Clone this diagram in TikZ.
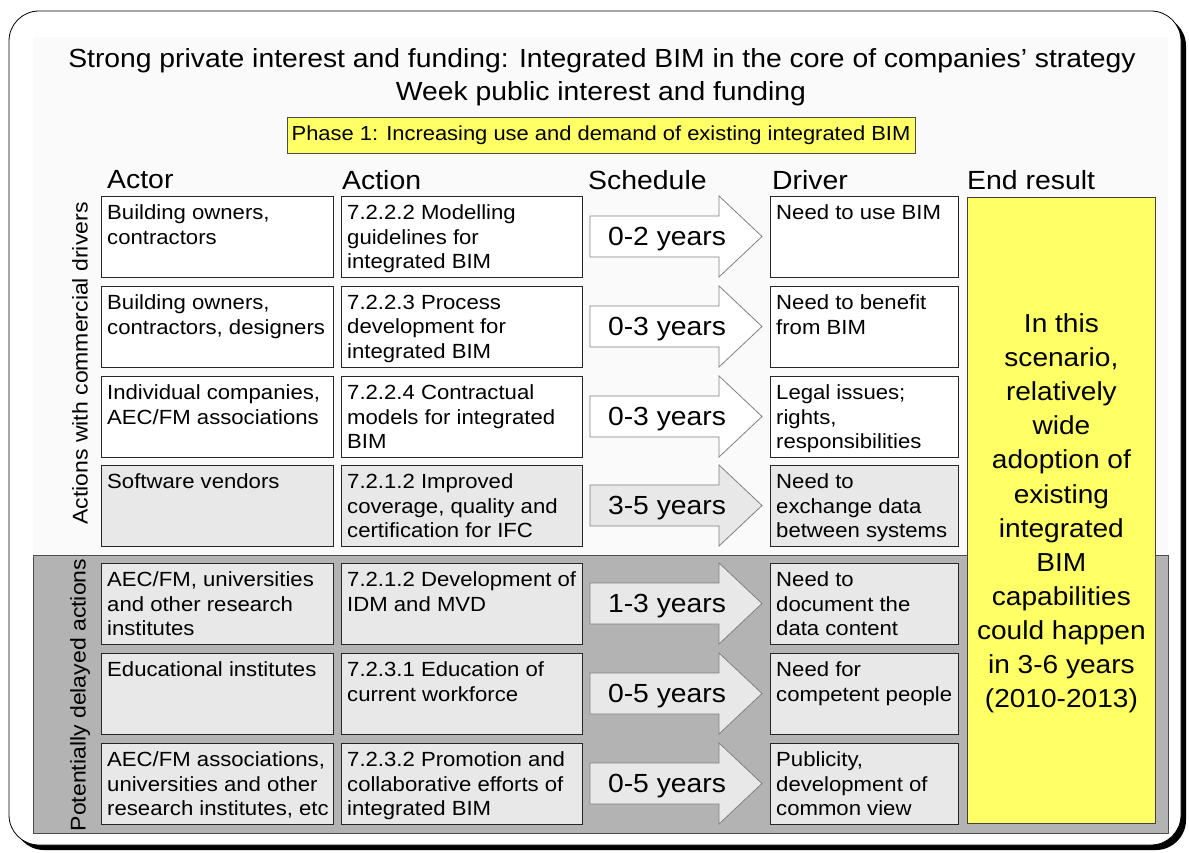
\documentclass[tikz,border=0pt]{standalone}
\usepackage{fontspec}
\usepackage{graphicx}
\setmainfont{Liberation Sans}[FakeStretch=1.08]
\definecolor{yel}{RGB}{255,255,102}
\definecolor{lg}{RGB}{232,232,232}
\definecolor{bgc}{RGB}{250,250,250}
\definecolor{dg}{RGB}{179,179,179}
\tikzset{
  cellbox/.style={draw=black!85, line width=0.8pt, anchor=north west, minimum height=81, inner sep=0pt},
  celltext/.style={anchor=north west, inner sep=0pt, align=left, font=\fontsize{20.5}{24.7}\selectfont},
  hdr/.style={anchor=west, inner sep=0pt, font=\fontsize{26.3}{30}\selectfont},
  arrowshape/.style={draw=black!50, line width=0.8pt},
  schedtext/.style={inner sep=0pt, font=\fontsize{26.2}{30}\selectfont},
  sidelabel/.style={rotate=90, inner sep=0pt, font=\fontsize{21.3}{24}\selectfont},
  titletext/.style={inner sep=0pt, font=\fontsize{26.2}{30}\selectfont},
}
\newcommand\bimrow[7]{%
  \node[cellbox, fill=#3, minimum width=232] (ac#1) at (101,#2) {};
  \node[celltext] (act#1) at ([xshift=6pt,yshift=-8.5pt]ac#1.north west) {#4};
  \node[cellbox, fill=#3, minimum width=241] (an#1) at (341,#2) {};
  \node[celltext] (ant#1) at ([xshift=6pt,yshift=-8.5pt]an#1.north west) {#5};
  \path[arrowshape, fill=#3] (590,#2+20) -- (719,#2+20) -- (719,#2) -- (762,#2+40.5) -- (719,#2+81) -- (719,#2+61) -- (590,#2+61) -- cycle;
  \node[schedtext] (sc#1) at (667,#2+43.5) {#6};
  \node[cellbox, fill=#3, minimum width=188] (dr#1) at (770,#2) {};
  \node[celltext] (drt#1) at ([xshift=6pt,yshift=-8.5pt]dr#1.north west) {#7};
}
\begin{document}
\begin{tikzpicture}[x=1pt,y=-1pt]
\useasboundingbox (0,0) rectangle (1189,853);
% frame with shadow
\fill[black, rounded corners=30] (14,16) rectangle (1186,850);
\draw[black, fill=white, line width=0.8pt, rounded corners=30] (9,11) rectangle (1181,845);
\fill[bgc] (33,37) rectangle (1168,555);
% gray region
\draw[fill=dg, draw=black!70, line width=0.8pt] (33,555) rectangle (1168,833);
% titles
\node[titletext] (t1) at (602,61) {Strong private interest and funding: Integrated BIM in the core of companies’ strategy};
\node[titletext] (t2) at (601,94) {Week public interest and funding};
\node[draw=black!70, fill=yel, line width=0.8pt, minimum width=628, minimum height=36, inner sep=0pt, font=\fontsize{20.3}{24}\selectfont] (phase) at (601,135) {Phase 1: Increasing use and demand of existing integrated BIM};
% headers
\node[hdr] (h1) at (107,180) {Actor};
\node[hdr] (h2) at (342,180) {Action};
\node[hdr] (h3) at (588,180) {Schedule};
\node[hdr] (h4) at (772,180) {Driver};
\node[hdr] (h5) at (967,180) {End result};
% side labels
\node[sidelabel] (s1) at (80,363.5) {Actions with commercial drivers};
\node[sidelabel] (s2) at (80,695) {Potentially delayed actions};
% rows
\bimrow{1}{196}{white}{Building owners,\\contractors}{7.2.2.2 Modelling\\guidelines for\\integrated BIM}{0-2 years}{Need to use BIM}
\bimrow{2}{286}{white}{Building owners,\\contractors, designers}{7.2.2.3 Process\\development for\\integrated BIM}{0-3 years}{Need to benefit\\from BIM}
\bimrow{3}{376}{white}{Individual companies,\\AEC/FM associations}{7.2.2.4 Contractual\\models for integrated\\BIM}{0-3 years}{Legal issues;\\rights,\\responsibilities}
\bimrow{4}{465}{lg}{Software vendors}{7.2.1.2 Improved\\coverage, quality and\\certification for IFC}{3-5 years}{Need to\\exchange data\\between systems}
\bimrow{5}{563}{lg}{AEC/FM, universities\\and other research\\institutes}{7.2.1.2 Development of\\IDM and MVD}{1-3 years}{Need to\\document the\\data content}
\bimrow{6}{653}{lg}{Educational institutes}{7.2.3.1 Education of\\current workforce}{0-5 years}{Need for\\competent people}
\bimrow{7}{743}{lg}{AEC/FM associations,\\universities and other\\research institutes, etc}{7.2.3.2 Promotion and\\collaborative efforts of\\integrated BIM}{0-5 years}{Publicity,\\development of\\common view}
% end result
\node[draw=black!75, fill=yel, line width=0.8pt, anchor=north west, minimum width=188, minimum height=626, inner sep=0pt] (er) at (967,197) {};
\node[align=center, inner sep=0pt, font=\fontsize{26}{34.1}\selectfont] (ert) at ([yshift=-3pt]er.center) {In this\\scenario,\\relatively\\wide\\adoption of\\existing\\integrated\\BIM\\capabilities\\could happen\\in 3-6 years\\(2010-2013)};
\end{tikzpicture}
\end{document}
